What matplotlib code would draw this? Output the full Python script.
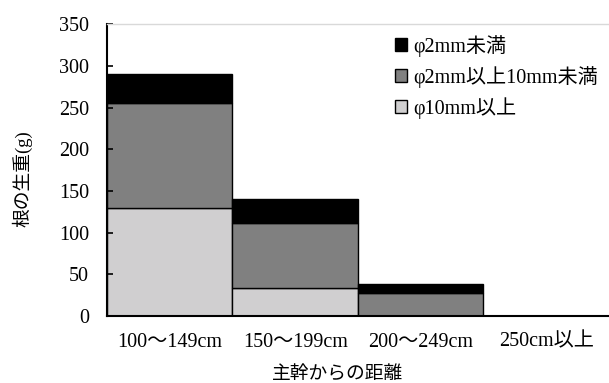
import matplotlib
matplotlib.use("Agg")
import matplotlib.pyplot as plt
import numpy as np

plt.rcParams['font.family'] = ['Liberation Serif', 'Noto Sans CJK JP']

categories = ['100～149cm', '150～199cm', '200～249cm', '250cm以上']
thick = [130, 33, 0, 0]          # φ10mm以上
medium = [126, 79, 28, 0]        # φ2mm以上10mm未満
fine = [34, 28, 10, 0]           # φ2mm未満
labels = ['φ10mm以上', 'φ2mm以上10mm未満', 'φ2mm未満']
colors = ['#d0cfd0', '#808080', '#000000']
yticks = [0, 50, 100, 150, 200, 250, 300, 350]

fig = plt.figure(figsize=(6.09, 3.83), dpi=100)
ax = fig.add_axes([0.1757, 0.175, 0.824, 0.762])

x = np.arange(len(categories))
b1 = ax.bar(x, thick, width=1.0, color=colors[0], edgecolor='black', linewidth=1.0, label=labels[0])
b2 = ax.bar(x, medium, width=1.0, bottom=thick, color=colors[1], edgecolor='black', linewidth=1.0, label=labels[1])
bottom2 = np.array(thick) + np.array(medium)
b3 = ax.bar(x, fine, width=1.0, bottom=bottom2, color=colors[2], edgecolor='black', linewidth=1.0, label=labels[2])

ax.set_xlim(-0.5, 3.5)
ax.set_ylim(0, 350)
ax.set_yticks(yticks)
ax.set_xticks(x)
ax.set_xticklabels(categories)
ax.tick_params(axis='y', direction='in', length=4, width=1.2, labelsize=14.5, pad=13)
ax.tick_params(axis='x', length=0, labelsize=14.5, pad=12)

ax.spines['right'].set_visible(False)
ax.spines['top'].set_color('#d9d9d9')
ax.spines['top'].set_linewidth(1.0)
ax.spines['left'].set_linewidth(1.5)
ax.spines['bottom'].set_linewidth(1.5)

ax.set_ylabel('根の生重(g)', fontsize=13.5, labelpad=19)
ax.set_xlabel('主幹からの距離', fontsize=13.5, labelpad=11)
ax.xaxis.label.set_x(0.46)
ax.yaxis.label.set_y(0.47)

handles = [b3, b2, b1]
ax.legend(handles, [labels[2], labels[1], labels[0]], loc='upper left',
          bbox_to_anchor=(0.538, 1.025), frameon=False, fontsize=14.5,
          handlelength=0.6, handleheight=0.6, handletextpad=0.3, labelspacing=0.45)

fig.savefig('out.png', dpi=100)
